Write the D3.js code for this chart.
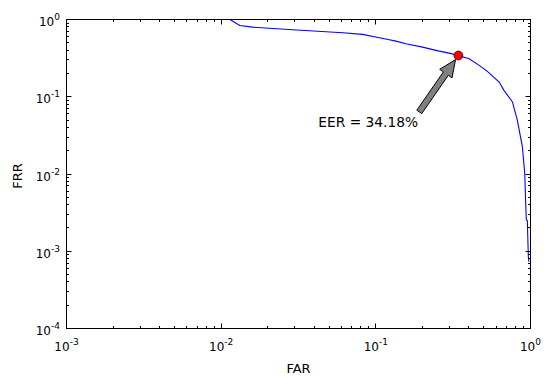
<!DOCTYPE html>
<head>
  <script src="https://d3js.org/d3.v7.min.js"></script>
  <style>
    body { margin: 0; background: #fff; }
    text { font-family: "DejaVu Sans", sans-serif; fill: #000; }
  </style>
</head>
<body>
  <svg width="553" height="385"></svg>
  <script>
    // DET curve
    const far = [0.0105, 0.0114, 0.0132, 0.0160, 0.0290, 0.0611, 0.0822, 0.1053, 0.1222, 0.1349,
                 0.1567, 0.2004, 0.257, 0.298, 0.3418, 0.401, 0.466, 0.526, 0.627, 0.674,
                 0.764, 0.822, 0.886, 0.918, 0.929, 0.940, 0.954, 0.968, 0.975];
    const frr = [1.0, 1.0, 0.837, 0.796, 0.736, 0.674, 0.641, 0.581, 0.547, 0.525,
                 0.486, 0.439, 0.390, 0.367, 0.3418, 0.311, 0.255, 0.213, 0.155, 0.121,
                 0.0857, 0.0497, 0.0225, 0.0102, 0.00465, 0.00255, 0.0025, 0.00086, 0.00073];
    const eer = 0.3418;
    const eerLabel = "EER = 34.18%";
    const textPos = [0.0425, 0.0404];
    const arrowTail = [0.191, 0.0637];

    const xTickVals = [1e-3, 1e-2, 1e-1, 1];
    const xTickExps = ["-3", "-2", "-1", "0"];
    const yTickVals = [1e-4, 1e-3, 1e-2, 1e-1, 1];
    const yTickExps = ["-4", "-3", "-2", "-1", "0"];

    const L = 66.5, R = 530.5, T = 19.5, B = 328.5;
    const svg = d3.select("svg");

    const x = d3.scaleLog().domain([1e-3, 1]).range([L, R]);
    const y = d3.scaleLog().domain([1e-4, 1]).range([B, T]);

    const minor = (lo, hi) => {
      const out = [];
      for (let e = lo; e < hi; e++)
        for (let m = 2; m <= 9; m++) out.push(m * Math.pow(10, e));
      return out;
    };

    svg.append("clipPath").attr("id", "clip")
      .append("rect").attr("x", L).attr("y", T).attr("width", R - L).attr("height", B - T);

    const line = d3.line().x(d => x(d[0])).y(d => y(d[1]));
    svg.append("path")
      .datum(far.map((f, i) => [f, frr[i]]))
      .attr("clip-path", "url(#clip)")
      .attr("d", line)
      .attr("fill", "none")
      .attr("stroke", "#0000ff")
      .attr("stroke-width", 1.1);

    // ticks, inward, all four sides
    const tickG = svg.append("g").attr("stroke", "#000").attr("stroke-width", 1);
    const drawTicks = (vals, len, horiz) => {
      vals.forEach(v => {
        if (horiz) {
          const px = Math.round(x(v) - 0.5) + 0.5;
          tickG.append("line").attr("x1", px).attr("x2", px).attr("y1", B).attr("y2", B - len);
          tickG.append("line").attr("x1", px).attr("x2", px).attr("y1", T).attr("y2", T + len);
        } else {
          const py = Math.round(y(v) - 0.5) + 0.5;
          tickG.append("line").attr("y1", py).attr("y2", py).attr("x1", L).attr("x2", L + len);
          tickG.append("line").attr("y1", py).attr("y2", py).attr("x1", R).attr("x2", R - len);
        }
      });
    };
    drawTicks(xTickVals, 5, true);
    drawTicks(minor(-3, 0), 2.5, true);
    drawTicks(yTickVals, 5, false);
    drawTicks(minor(-4, 0), 2.5, false);

    svg.append("rect")
      .attr("x", L).attr("y", T).attr("width", R - L).attr("height", B - T)
      .attr("fill", "none").attr("stroke", "#000").attr("stroke-width", 1);

    const powLabel = (g, exp) => {
      g.append("tspan").text("10");
      g.append("tspan").attr("dy", -6).attr("font-size", 9).text(exp);
    };

    xTickVals.forEach((v, i) => {
      const t = svg.append("text").attr("x", x(v)).attr("y", 350.5)
        .attr("text-anchor", "middle").attr("font-size", 12);
      powLabel(t, xTickExps[i]);
    });
    yTickVals.forEach((v, i) => {
      const t = svg.append("text").attr("x", 60).attr("y", y(v) + 6.5)
        .attr("text-anchor", "end").attr("font-size", 12);
      powLabel(t, yTickExps[i]);
    });

    svg.append("text").attr("x", (L + R) / 2).attr("y", 373.3)
      .attr("text-anchor", "middle").attr("font-size", 13).text("FAR");
    svg.append("text")
      .attr("transform", `translate(21.5,${(T + B) / 2 + 2}) rotate(-90)`)
      .attr("text-anchor", "middle").attr("font-size", 13).text("FRR");

    // annotation arrow
    const px0 = x(arrowTail[0]), py0 = y(arrowTail[1]);
    const ex = x(eer), ey = y(eer);
    const dx = ex - px0, dy = ey - py0, len = Math.hypot(dx, dy);
    const ux = dx / len, uy = dy / len, nx = -uy, ny = ux;
    const tipX = ex - ux * 5, tipY = ey - uy * 5;
    const shaftLen = len - 5 - 17, sw = 3, hw = 7.5;
    const bx = px0 + ux * shaftLen, by = py0 + uy * shaftLen;
    const pts = [
      [px0 + nx * sw, py0 + ny * sw],
      [bx + nx * sw, by + ny * sw],
      [bx + nx * hw, by + ny * hw],
      [tipX, tipY],
      [bx - nx * hw, by - ny * hw],
      [bx - nx * sw, by - ny * sw],
      [px0 - nx * sw, py0 - ny * sw]
    ];
    svg.append("polygon")
      .attr("points", pts.map(p => p.join(",")).join(" "))
      .attr("fill", "#808080").attr("stroke", "#000").attr("stroke-width", 1);

    svg.append("circle")
      .attr("cx", ex).attr("cy", ey).attr("r", 4.5)
      .attr("fill", "#ff0000").attr("stroke", "#000").attr("stroke-width", 0.6);

    svg.append("text")
      .attr("x", x(textPos[0])).attr("y", y(textPos[1]))
      .attr("font-size", 13.75).text(eerLabel);
  </script>
</body>
